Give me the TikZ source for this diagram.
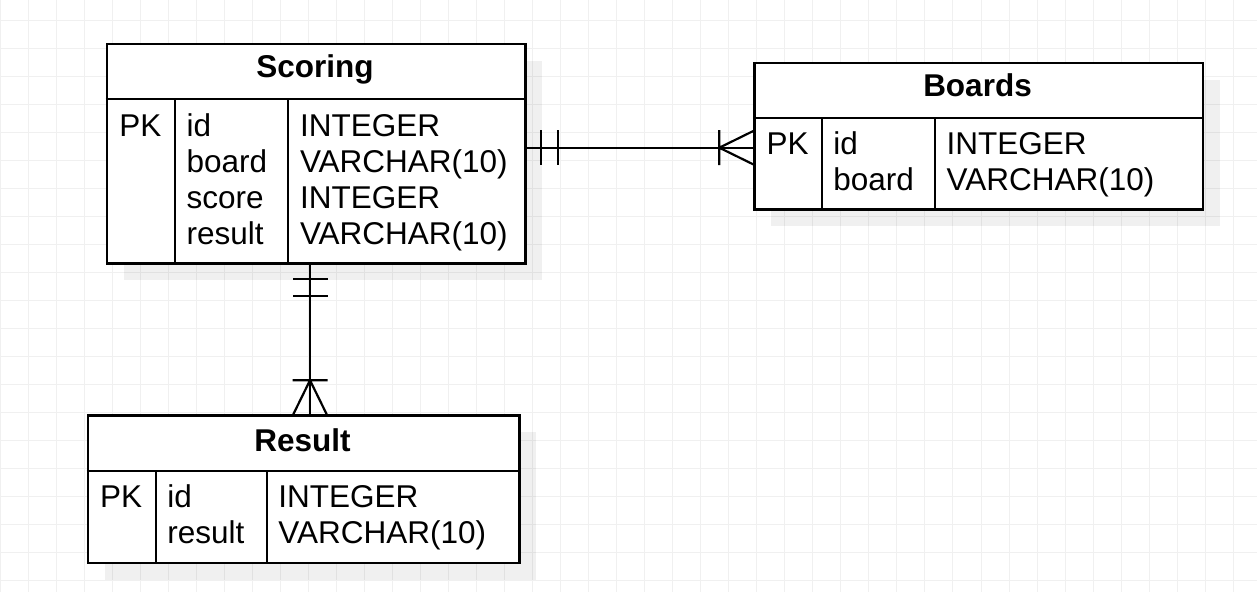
\documentclass[tikz,border=0pt]{standalone}
\usepackage{fontspec}
\setmainfont{Liberation Sans}
\usetikzlibrary{shadows}

\tikzset{
  gridline/.style={draw=gray!12, line width=1pt},
  tablebox/.style={draw, fill=white, line width=2.2pt, inner sep=0pt, anchor=north west,
    drop shadow={shadow xshift=17pt, shadow yshift=-17pt, fill=black, opacity=0.06}},
  tableline/.style={line width=2pt},
  tabletitle/.style={font=\bfseries\fontsize{31.5}{36}\selectfont, inner sep=0pt, anchor=base},
  cell/.style={font=\fontsize{31.5}{36}\selectfont, inner sep=0pt, anchor=base west},
  pkcell/.style={cell, anchor=base},
  relation/.style={line width=2.2pt},
  mandone/.pic={\draw[relation] (16.8,-17.5) -- (16.8,17.5) (34,-17.5) -- (34,17.5);},
  onemany/.pic={\draw[relation] (0,-16.7) -- (34,0) -- (0,16.7) (34,-17.5) -- (34,17.5);}
}

\begin{document}
\begin{tikzpicture}[x=1pt,y=-1pt]
\useasboundingbox (0,0) rectangle (1257,592);

%Raster
\foreach \gx in {0,...,44} \draw[gridline] ({0.3+28.02*\gx},0) -- ++(0,592);
\foreach \gy in {0,...,20} \draw[gridline] (0,{20+28.02*\gy}) -- ++(1257,0);

%Tabelle Scoring
\node[tablebox, minimum width=418.6pt, minimum height=219.6pt] (scoring) at (105.7,42.7) {};
\draw[tableline] (105.7,99) -- (524.3,99) (175,99) -- (175,262.3) (288.3,99) -- (288.3,262.3);
\node[tabletitle] (scoringtitle) at (315,77) {Scoring};
\node[pkcell] (scoringpk) at (140.3,136) {PK};
\foreach \f [count=\i] in {id,board,score,result}
  \node[cell] (scoringname\i) at (186.5,{100+36*\i}) {\f};
\foreach \t [count=\i] in {INTEGER,VARCHAR(10),INTEGER,VARCHAR(10)}
  \node[cell] (scoringtype\i) at (299.8,{100+36*\i}) {\t};

%Tabelle Boards
\node[tablebox, minimum width=448.4pt, minimum height=146.6pt] (boards) at (753.3,61.7) {};
\draw[tableline] (753.3,118.3) -- (1201.7,118.3) (821.7,118.3) -- (821.7,208.3) (935,118.3) -- (935,208.3);
\node[tabletitle] (boardstitle) at (977.5,96) {Boards};
\node[pkcell] (boardspk) at (787.5,154.5) {PK};
\foreach \f [count=\i] in {id,board}
  \node[cell] (boardsname\i) at (833.2,{118.5+36*\i}) {\f};
\foreach \t [count=\i] in {INTEGER,VARCHAR(10)}
  \node[cell] (boardstype\i) at (946.5,{118.5+36*\i}) {\t};

%Tabelle Result
\node[tablebox, minimum width=431.6pt, minimum height=147.4pt] (result) at (86.7,414.3) {};
\draw[tableline] (86.7,470.7) -- (518.3,470.7) (155.7,470.7) -- (155.7,561.7) (266.7,470.7) -- (266.7,561.7);
\node[tabletitle] (resulttitle) at (302.5,451) {Result};
\node[pkcell] (resultpk) at (121.2,507.5) {PK};
\foreach \f [count=\i] in {id,result}
  \node[cell] (resultname\i) at (167.2,{471.5+36*\i}) {\f};
\foreach \t [count=\i] in {INTEGER,VARCHAR(10)}
  \node[cell] (resulttype\i) at (278.2,{471.5+36*\i}) {\t};

%Beziehungen
\coordinate (scoringE) at (524.3,147.7);
\coordinate (boardsW) at (753.3,147.7);
\coordinate (scoringS) at (310,262.3);
\coordinate (resultN) at (310,414.3);
\draw[relation] (scoringE) -- (boardsW);
\draw[relation] (scoringS) -- (resultN);
\pic at (scoringE) {mandone};
\pic[rotate=180] at (boardsW) {onemany};
\pic[rotate=-90] at (scoringS) {mandone};
\pic[rotate=90] at (resultN) {onemany};
\end{tikzpicture}
\end{document}
